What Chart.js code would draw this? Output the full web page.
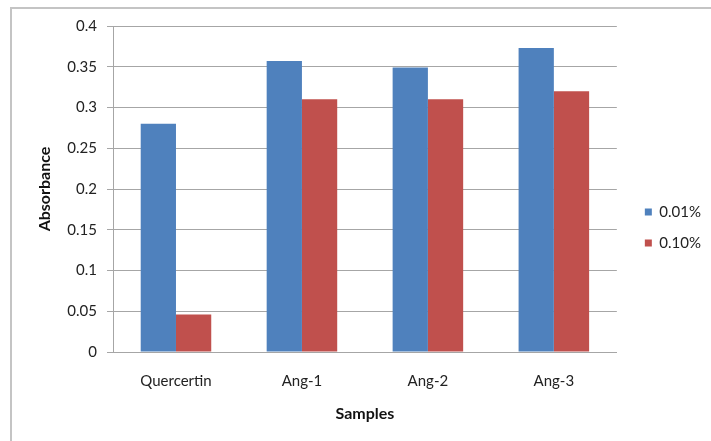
<!DOCTYPE html>
<html>
<head>
<meta charset="utf-8">
<script src="https://cdn.jsdelivr.net/npm/chart.js@4.4.0/dist/chart.umd.min.js"></script>
<style>
  body { margin: 0; background: #fff; }
  #wrap { position: relative; width: 711px; height: 441px; overflow: hidden; }
  #frame { position: absolute; left: 10px; top: 7px; width: 720px; height: 460px;
           border-top: 2px solid #c4c4c4; border-left: 2px solid #c4c4c4; }
  #chart { position: absolute; left: 0; top: 0; }
</style>
</head>
<body>
<div id="wrap">
  <div id="frame"></div>
  <canvas id="chart" width="711" height="441"></canvas>
</div>
<script>
const categories = ['Quercertin', 'Ang-1', 'Ang-2', 'Ang-3'];
const seriesNames = ['0.01%', '0.10%'];
const lowConc = [0.28, 0.357, 0.349, 0.373];
const highConc = [0.046, 0.31, 0.31, 0.32];

const FONT = 'Lato, "Liberation Sans", sans-serif';
const gridColor = '#a6a6a6';

let ctx = document.getElementById('chart').getContext('2d');
new Chart(ctx, {
    type: 'bar',
    data: {
        labels: categories,
        datasets: [
            {
                label: seriesNames[0],
                data: lowConc,
                backgroundColor: '#4f81bd',
                borderWidth: 0
            },
            {
                label: seriesNames[1],
                data: highConc,
                backgroundColor: '#c0504d',
                borderWidth: 0
            }
        ]
    },
    options: {
        responsive: false,
        animation: false,
        categoryPercentage: 0.56,
        barPercentage: 1,
        layout: {
            padding: { top: 26, left: 0, right: 0, bottom: 12 }
        },
        scales: {
            x: {
                grid: { display: false, drawTicks: false },
                border: { display: true, color: gridColor, width: 1 },
                ticks: {
                    color: '#222',
                    padding: 20,
                    font: { family: FONT, size: 15 }
                },
                title: {
                    display: true,
                    text: 'Samples',
                    color: '#111',
                    padding: { top: 0, bottom: 6 },
                    font: { family: FONT, size: 16, weight: 'bold' }
                },
                afterFit(scale) {
                    scale.height = 77;
                }
            },
            y: {
                min: 0,
                max: 0.4,
                ticks: {
                    stepSize: 0.05,
                    color: '#222',
                    padding: 10,
                    font: { family: FONT, size: 15 },
                    callback(value) {
                        return String(Number(value.toFixed(2)));
                    }
                },
                grid: {
                    color: gridColor,
                    lineWidth: 1,
                    drawTicks: true,
                    tickLength: 6
                },
                border: { display: true, color: gridColor, width: 1 },
                title: {
                    display: true,
                    text: 'Absorbance',
                    color: '#111',
                    padding: { top: 35, bottom: 0 },
                    font: { family: FONT, size: 16, weight: 'bold' }
                },
                afterFit(scale) {
                    scale.width = 113;
                }
            },
            // empty spacer between the plot and the legend
            spacer: {
                type: 'linear',
                position: 'right',
                display: true,
                grid: { display: false, drawTicks: false },
                border: { display: false },
                ticks: { display: false },
                afterFit(scale) {
                    scale.width = 12;
                }
            }
        },
        plugins: {
            legend: {
                position: 'right',
                labels: {
                    boxWidth: 7,
                    boxHeight: 7,
                    padding: 16,
                    color: '#222',
                    font: { family: FONT, size: 15 }
                }
            },
            tooltip: { enabled: false }
        }
    }
});
</script>
</body>
</html>
